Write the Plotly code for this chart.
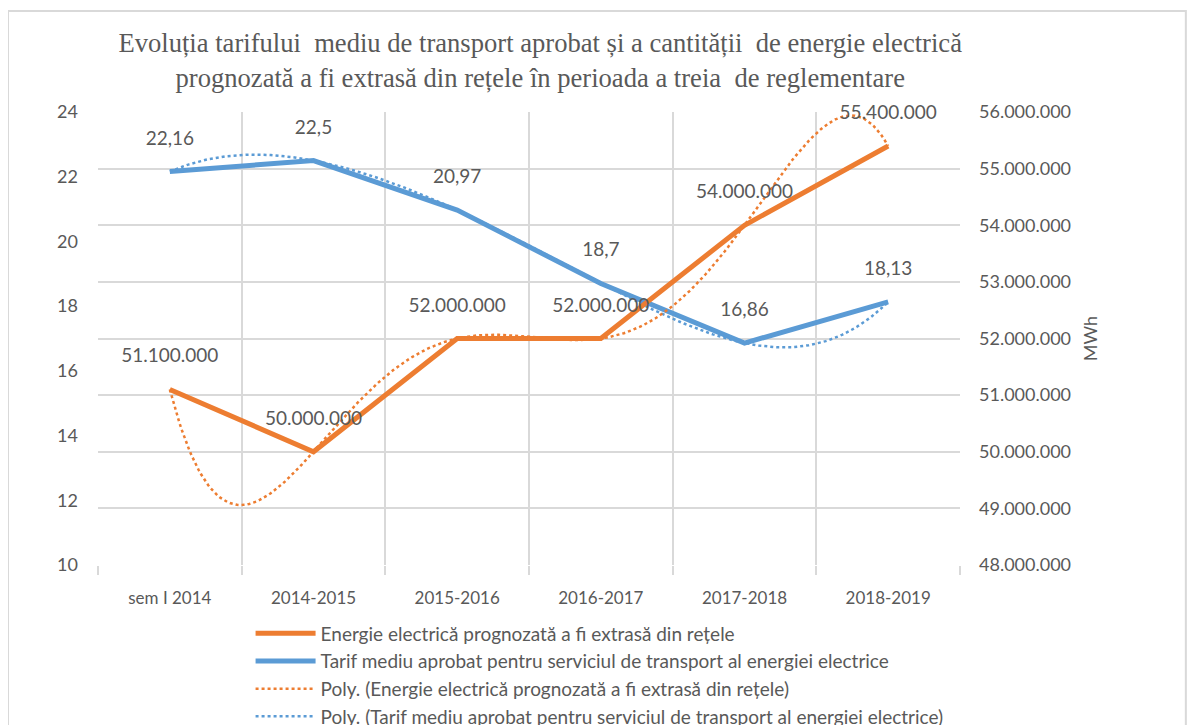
import numpy as np
import plotly.graph_objects as go

categories = ["sem I 2014", "2014-2015", "2015-2016", "2016-2017", "2017-2018", "2018-2019"]
energie = [51100000, 50000000, 52000000, 52000000, 54000000, 55400000]
tarif = [22.16, 22.5, 20.97, 18.7, 16.86, 18.13]

name_e = "Energie electrică prognozată a fi extrasă din rețele"
name_t = "Tarif mediu aprobat pentru serviciul de transport al energiei electrice"

ORANGE = "#ED7D31"
BLUE = "#5B9BD5"
GRAY = "#595959"
GRID = "#D9D9D9"
FONT = "Lato"

x = np.arange(len(categories))
xd = np.linspace(0, len(categories) - 1, 300)
poly_e = np.polynomial.Polynomial.fit(x, energie, 5)(xd)
poly_t = np.polynomial.Polynomial.fit(x, tarif, 5)(xd)

lab_e = [f"{v:,.0f}".replace(",", ".") for v in energie]
lab_t = [str(v).replace(".", ",") for v in tarif]

fig = go.Figure()
fig.add_trace(go.Scatter(x=x, y=energie, name=name_e, yaxis="y2", mode="lines",
                         line=dict(color=ORANGE, width=5)))
fig.add_trace(go.Scatter(x=x, y=tarif, name=name_t, yaxis="y", mode="lines",
                         line=dict(color=BLUE, width=5)))
fig.add_trace(go.Scatter(x=xd, y=poly_e, name="Poly. (" + name_e + ")", yaxis="y2", mode="lines",
                         line=dict(color=ORANGE, width=2.5, dash="dot")))
fig.add_trace(go.Scatter(x=xd, y=poly_t, name="Poly. (" + name_t + ")", yaxis="y", mode="lines",
                         line=dict(color=BLUE, width=2.5, dash="dot")))
# data labels
fig.add_trace(go.Scatter(x=x, y=energie, yaxis="y2", mode="markers+text", showlegend=False,
                         marker=dict(size=34, opacity=0), text=lab_e, textposition="top center",
                         cliponaxis=False, hoverinfo="skip",
                         textfont=dict(family=FONT, size=19, color=GRAY)))
fig.add_trace(go.Scatter(x=x, y=tarif, yaxis="y", mode="markers+text", showlegend=False,
                         marker=dict(size=34, opacity=0), text=lab_t, textposition="top center",
                         cliponaxis=False, hoverinfo="skip",
                         textfont=dict(family=FONT, size=19, color=GRAY)))

fig.update_layout(
    width=1196, height=725,
    margin=dict(l=90, r=244, t=104, b=168, autoexpand=False),
    paper_bgcolor="white", plot_bgcolor="white",
    separators=",.",
    font=dict(family=FONT, size=18, color=GRAY),
    title=dict(text="Evoluția tarifului  mediu de transport aprobat și a cantității  de energie electrică<br>prognozată a fi extrasă din rețele în perioada a treia  de reglementare",
               x=0.445, xanchor="center", xref="container", y=0.939, yanchor="top", yref="container",
               font=dict(family="Liberation Serif", size=26.6, color=GRAY)),
    xaxis=dict(range=[-0.5, 5.5], tickmode="array", tickvals=list(x), ticktext=categories,
               showgrid=False, ticks="", zeroline=False, showline=False, ticklabelstandoff=21,
               tickfont=dict(family=FONT, size=17, color=GRAY),
               minor=dict(tick0=-0.5, dtick=1, showgrid=True, gridcolor=GRID, gridwidth=1.5,
                          ticks="outside", ticklen=9, tickcolor=GRID, tickwidth=1.5)),
    yaxis=dict(range=[10, 24], dtick=2, showgrid=False, zeroline=False, showline=False,
               tickfont=dict(family=FONT, size=18, color=GRAY), ticklabelstandoff=19),
    yaxis2=dict(range=[48000000, 56000000], dtick=1000000, overlaying="y", side="right",
                showgrid=True, gridcolor=GRID, gridwidth=1.5, zeroline=False, showline=False,
                tickformat=",d", tickfont=dict(family=FONT, size=18, color=GRAY), ticklabelstandoff=18,
                title=dict(text="MWh", font=dict(family=FONT, size=18, color=GRAY), standoff=14)),
    showlegend=True,
    legend=dict(x=0.177, xanchor="left", y=-0.109, yanchor="top", orientation="v",
                font=dict(family=FONT, size=19, color=GRAY), tracegroupgap=0, itemwidth=60,
                bgcolor="rgba(0,0,0,0)"),
)
fig.add_shape(type="rect", xref="paper", yref="paper", x0=-0.1044, x1=1.262, y0=-0.5, y1=1.223,
              line=dict(color=GRID, width=2), fillcolor="rgba(0,0,0,0)", layer="below")

fig.write_html("out.html")
